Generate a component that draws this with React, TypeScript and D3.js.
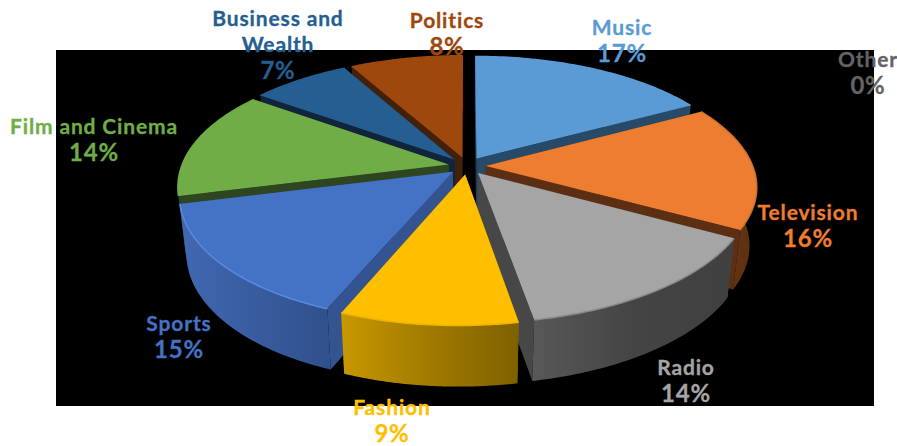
import React from "react";
import * as d3 from "d3";

// Share of mentions per category, in percent, clockwise from twelve o'clock.
const categories = ["Music", "Television", "Radio", "Fashion", "Sports", "Film and Cinema", "Business and Wealth", "Politics", "Other"];
const shares = [17, 16, 14, 9, 15, 14, 7, 8, 0];

const topColors = ["#5b9bd5", "#ed7d31", "#a5a5a5", "#fdbf00", "#4472c4", "#70ad47", "#255e91", "#9e480e", "#636363"];
const sideColors = ["#264a68", "#5c2f12", "#474747", "#8a6a00", "#335490", "#2d4620", "#10243c", "#43200a", "#333333"];
const wallStops: string[][] = [
  ["#264a68", "#264a68"],
  ["#6b3815", "#5c3012"],
  ["#585858", "#444444", "#404040"],
  ["#c89800", "#a07a00", "#7e6100"],
  ["#4268b2", "#385c9f", "#30508c"],
  ["#2d4620", "#2d4620"],
  ["#10243c", "#10243c"],
  ["#43200a", "#43200a"],
  ["#333333", "#333333"],
];
const rimColors = ["#5b9bd5", "#d0732e", "#8a8a8a", "#f0b400", "#5a8ae0", "#70ad47", "#255e91", "#9e480e", "#636363"];

const labelLines = [["Music"], ["Television"], ["Radio"], ["Fashion"], ["Sports"], ["Film and Cinema"], ["Business and", "Wealth"], ["Politics"], ["Other"]];
const labelAnchors: [number, number][] = [[622, 35], [808, 220], [686, 375], [392, 415], [179, 331], [94, 134], [278, 26], [447, 28], [868, 67]];

const WIDTH = 897;
const HEIGHT = 446;
const CX = 467;
const CY = 166;
const RX = 267;
const RY = 122;
const PERSP_X = 0.165;
const PERSP_Y = 0.17;
const SHEAR = 6;
const DEPTH = 58;
const EXPLODE = 0.07;

// Perspective projection of a point on the unit disc; z runs from the top face (0) to the bottom face (1).
function project(X: number, Y: number, z = 0): [number, number] {
  const shrink = 1 - 0.025 * z;
  const front = Math.max(Y, 0);
  return [
    CX + (RX * X * shrink) / (1 - PERSP_X * Y) - SHEAR * front * front,
    CY + (RY * Y) / (1 - PERSP_Y * Y) + z * DEPTH * (1 + 0.05 * Y),
  ];
}

const pie = d3.pie<number>().sort(null).value((d) => d).startAngle(0).endAngle(2 * Math.PI);
const line = d3.line<[number, number]>().x((p) => p[0]).y((p) => p[1]);

function buildSlices() {
  return pie(shares)
    .map((arc, i) => {
      const mid = (arc.startAngle + arc.endAngle) / 2;
      const ox = EXPLODE * Math.sin(mid);
      const oy = -EXPLODE * Math.cos(mid);
      const at = (a: number, r: number, z: number) =>
        project(ox + r * Math.sin(a), oy - r * Math.cos(a), z);
      const angles = d3.range(0, 61).map((k) => arc.startAngle + ((arc.endAngle - arc.startAngle) * k) / 60);
      const rimTop = angles.map((a) => at(a, 1, 0));
      const rimBottom = angles.map((a) => at(a, 1, 1));
      const apexTop = at(0, 0, 0);
      const apexBottom = at(0, 0, 1);
      const close = (pts: [number, number][]) => (line(pts) ?? "") + "Z";
      const xs = rimBottom.concat(rimTop).map((p) => p[0]);
      return {
        i,
        oy,
        mid,
        empty: arc.endAngle - arc.startAngle < 1e-6,
        top: close([apexTop, ...rimTop]),
        rim: line(rimTop) ?? "",
        wall: close([...rimTop, ...rimBottom.slice().reverse()]),
        sideA: close([apexTop, rimTop[0], rimBottom[0], apexBottom]),
        sideB: close([apexTop, rimTop[60], rimBottom[60], apexBottom]),
        x0: d3.min(xs) ?? 0,
        x1: d3.max(xs) ?? 0,
      };
    })
    .filter((s) => !s.empty)
    .sort((a, b) => d3.ascending(a.oy, b.oy));
}

export default function App() {
  const slices = buildSlices();
  return (
    <svg
      width={WIDTH}
      height={HEIGHT}
      viewBox={`0 0 ${WIDTH} ${HEIGHT}`}
      style={{ position: "absolute", left: 0, top: 0, background: "#fff" }}
    >
      <defs>
        {slices.map((s) => (
          <linearGradient key={s.i} id={`wall-${s.i}`} gradientUnits="userSpaceOnUse" x1={s.x0} x2={s.x1} y1={0} y2={0}>
            {wallStops[s.i].map((c, k) => (
              <stop key={k} offset={k / (wallStops[s.i].length - 1)} stopColor={c} />
            ))}
          </linearGradient>
        ))}
      </defs>
      <rect x={56} y={50} width={818} height={356} fill="#000" />
      {slices.map((s) => (
        <g key={s.i}>
          <path d={s.sideA} fill={sideColors[s.i]} />
          <path d={s.sideB} fill={sideColors[s.i]} />
          <path d={s.wall} fill={`url(#wall-${s.i})`} />
          <path d={s.top} fill={topColors[s.i]} />
          <path d={s.rim} fill="none" stroke={rimColors[s.i]} strokeWidth={1.5} />
        </g>
      ))}
      {categories.map((name, i) => {
        const [x, y] = labelAnchors[i];
        const lines = [...labelLines[i], `${shares[i]}%`];
        return (
          <text
            key={name}
            textAnchor="middle"
            fontFamily="Lato, sans-serif"
            fontWeight={700}
            fill={topColors[i]}
            stroke={topColors[i]}
            strokeWidth={0.3}
          >
            {lines.map((t, k) => {
              const isShare = k === lines.length - 1;
              return (
                <tspan
                  key={k}
                  x={x}
                  y={y + k * 26 + (isShare ? 1 : 0)}
                  fontSize={isShare ? 24 : 21}
                  letterSpacing={isShare ? 0.8 : 0.85}
                >
                  {t}
                </tspan>
              );
            })}
          </text>
        );
      })}
    </svg>
  );
}
